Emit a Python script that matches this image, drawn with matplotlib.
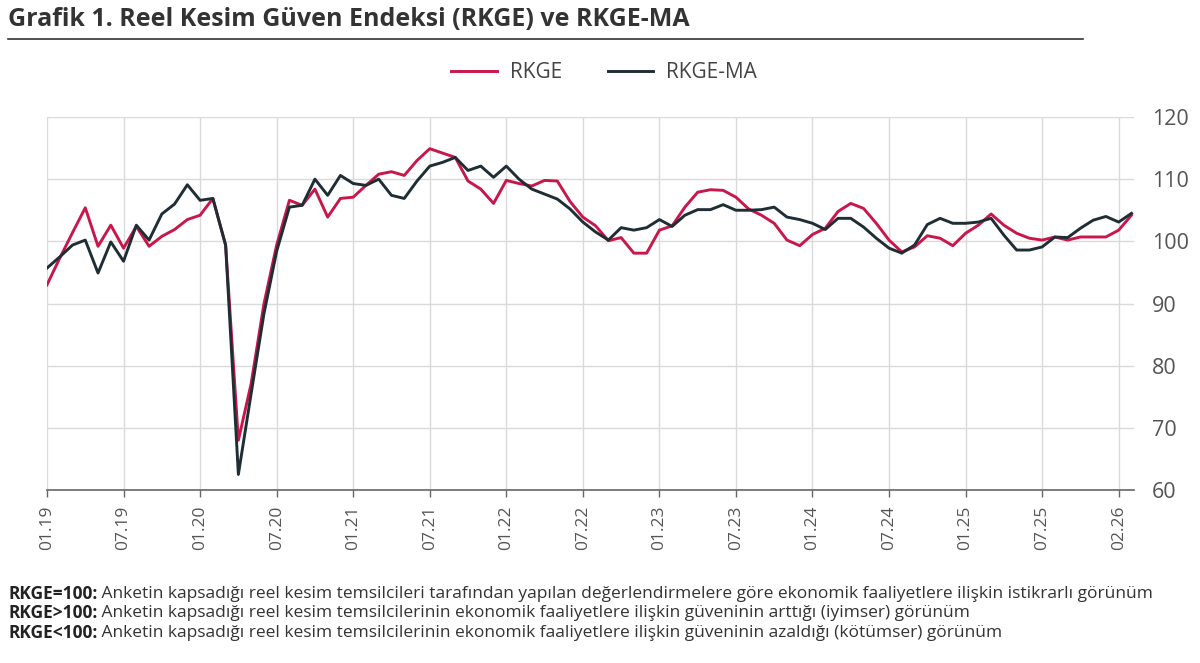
import matplotlib
matplotlib.use("Agg")
import matplotlib.pyplot as plt
from matplotlib.lines import Line2D
import numpy as np

plt.rcParams['font.family'] = ['Open Sans', 'DejaVu Sans']

rkge = [93.0, 97.3, 101.4, 105.4, 99.2, 102.6, 98.9, 102.4, 99.2, 100.8,
        101.9, 103.5, 104.2, 106.9, 99.4, 68.0, 77.1, 89.9, 99.4, 106.6,
        105.8, 108.4, 103.9, 106.9, 107.1, 109.0, 110.8, 111.2, 110.6, 113.0,
        114.9, 114.2, 113.5, 109.7, 108.4, 106.1, 109.8, 109.3, 108.9, 109.8,
        109.7, 106.4, 103.9, 102.5, 100.1, 100.6, 98.1, 98.1, 101.8, 102.5,
        105.5, 107.9, 108.3, 108.2, 107.1, 105.2, 104.2, 102.9, 100.2, 99.3,
        101.1, 102.1, 104.8, 106.1, 105.3, 102.9, 100.2, 98.3, 99.1, 100.9,
        100.5, 99.3, 101.3, 102.6, 104.4, 102.6, 101.3, 100.5, 100.2, 100.7,
        100.2, 100.7, 100.7, 100.7, 101.8, 104.2]

rkge_ma = [95.7, 97.5, 99.4, 100.2, 94.9, 99.9, 96.8, 102.6, 100.2, 104.4,
           106.0, 109.1, 106.6, 106.9, 99.4, 62.5, 75.5, 88.3, 98.4, 105.5,
           105.8, 110.0, 107.4, 110.6, 109.3, 109.0, 110.0, 107.4, 106.9, 109.7,
           112.1, 112.7, 113.5, 111.4, 112.1, 110.3, 112.1, 110.0, 108.4, 107.6,
           106.8, 105.2, 103.1, 101.5, 100.2, 102.2, 101.8, 102.2, 103.5, 102.4,
           104.2, 105.1, 105.1, 105.9, 105.0, 105.0, 105.1, 105.5, 103.9, 103.5,
           102.9, 101.9, 103.7, 103.7, 102.3, 100.5, 98.9, 98.1, 99.4, 102.7,
           103.7, 102.9, 102.9, 103.1, 103.7, 101.0, 98.6, 98.6, 99.1, 100.7,
           100.6, 102.1, 103.4, 104.0, 103.1, 104.5]

tick_labels = ["01.19", "07.19", "01.20", "07.20", "01.21", "07.21", "01.22",
               "07.22", "01.23", "07.23", "01.24", "07.24", "01.25", "07.25", "02.26"]
y_ticks = [60, 70, 80, 90, 100, 110, 120]

series_names = ["RKGE", "RKGE-MA"]
title = "Grafik 1. Reel Kesim Güven Endeksi (RKGE) ve RKGE-MA"
notes_bold = ["RKGE=100:", "RKGE>100:", "RKGE<100:"]
notes_text = [
    " Anketin kapsadığı reel kesim temsilcileri tarafından yapılan değerlendirmelere göre ekonomik faaliyetlere ilişkin istikrarlı görünüm",
    " Anketin kapsadığı reel kesim temsilcilerinin ekonomik faaliyetlere ilişkin güveninin arttığı (iyimser) görünüm",
    " Anketin kapsadığı reel kesim temsilcilerinin ekonomik faaliyetlere ilişkin güveninin azaldığı (kötümser) görünüm",
]

PINK = "#C8174A"
DARK = "#1F2E35"
GRAY = "#555555"
GRID = "#DADADA"

W, H = 1200, 663
fig = plt.figure(figsize=(W / 100, H / 100), dpi=100)
fig.patch.set_facecolor("white")

ax = fig.add_axes([47 / W, 1 - 490 / H, (1134 - 47) / W, (490 - 117) / H])
x = np.arange(len(rkge))
l1, = ax.plot(x, rkge, color=PINK, lw=2.1, solid_joinstyle="round", zorder=3)
l2, = ax.plot(x, rkge_ma, color=DARK, lw=2.1, solid_joinstyle="round", zorder=4)

ax.set_xlim(0, len(rkge) - 0.8)
ax.set_ylim(60, 120)
ax.set_yticks(y_ticks)
ax.yaxis.tick_right()
ax.tick_params(axis="y", length=0, pad=13, labelsize=15.5, labelcolor=GRAY)
xt = np.arange(0, 6 * len(tick_labels), 6)
ax.set_xticks(xt)
ax.set_xticklabels(tick_labels, rotation=90)
ax.tick_params(axis="x", length=5, width=1, color="#666666", pad=6,
               labelsize=12.5, labelcolor=GRAY, direction="out")
ax.grid(True, color=GRID, lw=1)
ax.set_axisbelow(True)
for s in ["top", "left", "right"]:
    ax.spines[s].set_visible(False)
ax.spines["bottom"].set_color("#666666")
ax.spines["bottom"].set_linewidth(1.2)

# Title and underline
fig.text(8 / W, 1 - 20 / H, title, fontsize=18, fontweight="bold",
         color="#333333", va="center", ha="left")
fig.add_artist(Line2D([8 / W, 1083 / W], [1 - 39 / H, 1 - 39 / H],
                      color="#333333", lw=1.2))

# Legend
fig.legend([l1, l2], series_names, loc="center", bbox_to_anchor=(604 / W, 1 - 73 / H),
           ncol=2, frameon=False, fontsize=15, handlelength=2.2,
           columnspacing=2.2, handletextpad=0.6, labelcolor="#444444")

# Footnotes
fig.canvas.draw()
renderer = fig.canvas.get_renderer()
ys = [594, 613, 633]
for b, t, yy in zip(notes_bold, notes_text, ys):
    tb = fig.text(8 / W, 1 - yy / H, b, fontsize=12.5, fontweight="bold",
                  color="#222222", va="center", ha="left")
    bb = tb.get_window_extent(renderer=renderer)
    fig.text(bb.x1 / W, 1 - yy / H, t, fontsize=12.5, color="#333333",
             va="center", ha="left")

fig.savefig("out.png", dpi=100, facecolor="white")
